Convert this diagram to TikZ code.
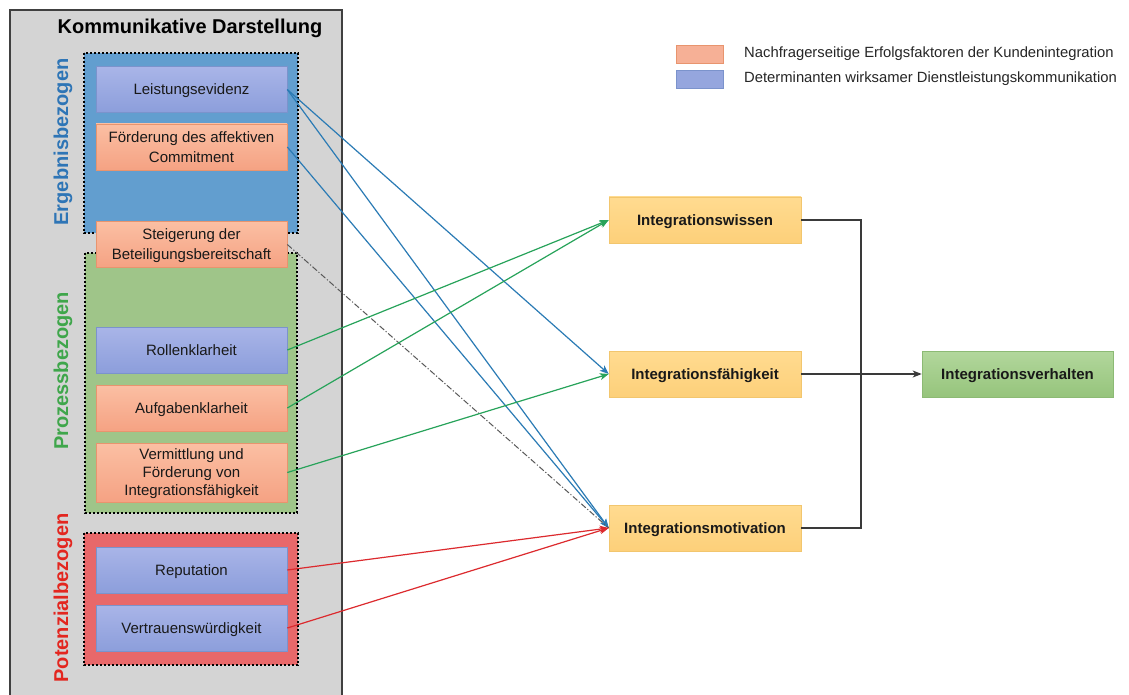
\documentclass[tikz,border=0pt]{standalone}
\usepackage{fontspec}
\setmainfont{Liberation Sans}
\usetikzlibrary{arrows.meta}
\definecolor{panelgray}{HTML}{D4D4D4}
\definecolor{panelborder}{HTML}{404040}
\definecolor{grpblue}{HTML}{629ECF}
\definecolor{grpgreen}{HTML}{9FC589}
\definecolor{grpred}{HTML}{E8686A}
\definecolor{lavtop}{HTML}{A9B5E8}
\definecolor{lavbot}{HTML}{8C9EDB}
\definecolor{lavborder}{HTML}{7B93CC}
\definecolor{orgtop}{HTML}{FBBFA3}
\definecolor{orgbot}{HTML}{F5A283}
\definecolor{orgborder}{HTML}{E8946E}
\definecolor{yeltop}{HTML}{FFDB90}
\definecolor{yelbot}{HTML}{FDD07A}
\definecolor{yelborder}{HTML}{F2C66E}
\definecolor{grntop}{HTML}{B2D79C}
\definecolor{grnbot}{HTML}{96C47C}
\definecolor{grnborder}{HTML}{8CBA74}
\definecolor{lblblue}{HTML}{2E75B6}
\definecolor{lblgreen}{HTML}{3FA64B}
\definecolor{lblred}{HTML}{E3261F}
\definecolor{lnblue}{HTML}{2B7BB5}
\definecolor{lngreen}{HTML}{27A35A}
\definecolor{lnred}{HTML}{DC2A2E}
\definecolor{lnblack}{HTML}{3A3A3A}
\newcommand{\mylines}[1]{\begin{tabular}[b]{@{}c@{}}#1\end{tabular}}
\begin{document}
\begin{tikzpicture}[x=1pt,y=-1pt,
  basebox/.style={rectangle, minimum height=46pt, inner sep=2pt,
    text=black!90, font=\fontsize{15}{20}\selectfont, line width=0.6pt,
    text height=10.75pt, text depth=0pt},
  twol/.style={text height=30.75pt},
  threel/.style={text height=46.75pt, font=\fontsize{15}{18}\selectfont},
  lavbox/.style={basebox, minimum width=191pt, draw=lavborder, top color=lavtop, bottom color=lavbot},
  orgbox/.style={basebox, minimum width=191pt, draw=orgborder, top color=orgtop, bottom color=orgbot},
  yelbox/.style={basebox, minimum width=192pt, draw=yelborder, top color=yeltop, bottom color=yelbot,
    font=\fontsize{15}{20}\selectfont\bfseries},
  grnbox/.style={basebox, minimum width=191pt, draw=grnborder, top color=grntop, bottom color=grnbot,
    font=\fontsize{15}{20}\selectfont\bfseries},
  grp/.style={draw=black, line width=2.6pt, dash pattern=on 2.4pt off 1.6pt},
  grplabel/.style={rotate=90, font=\fontsize{20}{24}\selectfont\bfseries},
  tip/.style={-{Stealth[length=9pt,width=7pt,inset=2.5pt]}},
  conn/.style={line width=1.2pt, tip},
  legtext/.style={anchor=west, inner sep=0pt, font=\fontsize{14.8}{17}\selectfont, text=black!85}
]
\useasboundingbox (0,0) rectangle (1129,695);
\fill[white] (0,0) rectangle (1129,695);
% gray panel
\draw[fill=panelgray, draw=panelborder, line width=1.3pt] (10,10) rectangle (342,700);
\node[font=\fontsize{20}{24}\selectfont\bfseries] (title) at (190,28) {Kommunikative Darstellung};
% groups
\fill[grpblue] (84,53) rectangle (298,233);
\draw[grp] (84,53) rectangle (298,233);
\fill[grpgreen] (85,253) rectangle (297,513);
\draw[grp] (85,253) rectangle (297,513);
\fill[grpred] (84,533) rectangle (298,665);
\draw[grp] (84,533) rectangle (298,665);
\node[grplabel, text=lblblue] (lerg) at (63,142) {Ergebnisbezogen};
\node[grplabel, text=lblgreen] (lpro) at (63,371) {Prozessbezogen};
\node[grplabel, text=lblred] (lpot) at (63,598) {Potenzialbezogen};
% left boxes
\node[lavbox] (le) at (191.5,89.5) {Leistungsevidenz};
\node[orgbox, twol] (fo) at (191.5,147) {\mylines{Förderung des affektiven\\Commitment}};
\node[orgbox, twol] (st) at (191.5,244.5) {\mylines{Steigerung der\\Beteiligungsbereitschaft}};
\node[lavbox] (ro) at (191.5,350) {Rollenklarheit};
\node[orgbox] (au) at (191.5,408) {Aufgabenklarheit};
\node[orgbox, threel, minimum height=59pt] (ve) at (191.5,472.5) {\mylines{Vermittlung und\\Förderung von\\Integrationsfähigkeit}};
\node[lavbox] (re) at (191.5,570) {Reputation};
\node[lavbox] (vt) at (191.5,628) {Vertrauenswürdigkeit};
% right boxes
\node[yelbox] (iw) at (705,220) {Integrationswissen};
\node[yelbox] (ifa) at (705,374) {Integrationsfähigkeit};
\node[yelbox] (im) at (705,528) {Integrationsmotivation};
\node[grnbox] (iv) at (1017.5,374) {Integrationsverhalten};
% legend
\node[draw=orgborder, fill=orgbot!85!white, minimum width=47pt, minimum height=18pt, inner sep=0pt] (lego) at (699.5,54) {};
\node[draw=lavborder, fill=lavbot!92!white, minimum width=47pt, minimum height=18pt, inner sep=0pt] (legb) at (699.5,79) {};
\node[legtext] (lt1) at (744,54) {Nachfragerseitige Erfolgsfaktoren der Kundenintegration};
\node[legtext] (lt2) at (744,79) {Determinanten wirksamer Dienstleistungskommunikation};
% connectors
\draw[conn, draw=lnblue] (le.east) -- (ifa.west);
\draw[conn, draw=lnblue] (le.east) -- (im.west);
\draw[conn, draw=lnblue] (fo.east) -- (im.west);
\draw[line width=1pt, draw=black!65, dash pattern=on 6pt off 2pt on 1.2pt off 2pt] (st.east) -- (im.west);
\draw[conn, draw=lngreen] (ro.east) -- (iw.west);
\draw[conn, draw=lngreen] (au.east) -- (iw.west);
\draw[conn, draw=lngreen] (ve.east) -- (ifa.west);
\draw[conn, draw=lnred] (re.east) -- (im.west);
\draw[conn, draw=lnred] (vt.east) -- (im.west);
\coordinate (jt) at (861,220);
\coordinate (jb) at (861,528);
\draw[line width=1.3pt, draw=lnblack] (iw.east) -- (jt) -- (jb) -- (im.east);
\draw[line width=1.3pt, draw=lnblack, tip] (ifa.east) -- (iv.west);
\end{tikzpicture}
\end{document}
